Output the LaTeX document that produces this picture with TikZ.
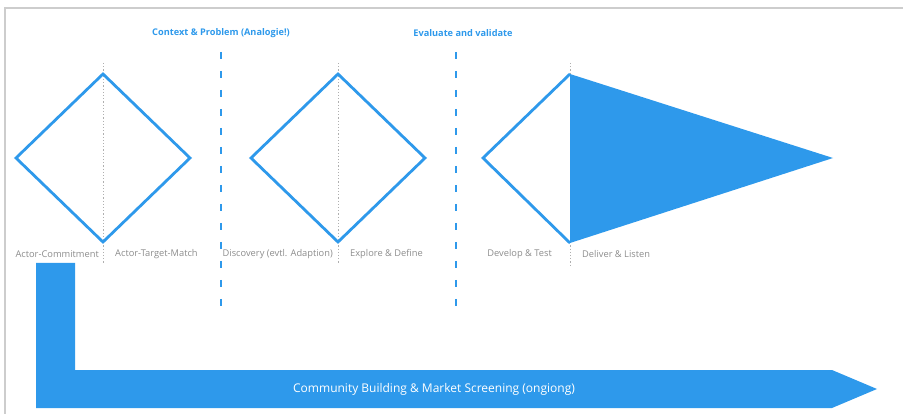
\documentclass[tikz,border=0pt]{standalone}
\usepackage{fontspec}
\setmainfont{Open Sans}
\definecolor{dtblue}{RGB}{46,153,235}
\definecolor{framegray}{RGB}{205,205,205}
\definecolor{labelgray}{RGB}{140,140,140}
\begin{document}
\begin{tikzpicture}[x=1pt,y=-1pt,
  outline/.style={draw=dtblue,line width=2.8pt,line join=miter},
  axisline/.style={draw=labelgray!70,line width=0.8pt,dash pattern=on 1.2pt off 2pt},
  phasesep/.style={draw=dtblue,line width=2.6pt,dash pattern=on 7pt off 12pt},
  phasetitle/.style={text=dtblue,font=\fontsize{9.2}{11}\selectfont\bfseries,inner sep=0pt},
  steplabel/.style={text=labelgray,font=\fontsize{9.3}{11}\selectfont,inner sep=0pt},
  bandtext/.style={text=white,font=\fontsize{12}{14}\selectfont,inner sep=0pt}]
\useasboundingbox (0,0) rectangle (903,414);
% frame
\draw[framegray,line width=1.5pt] (5,414) -- (5,8) -- (903,8);

% phase titles and separators
\node[phasetitle] (t1) at (221,33) {Context \& Problem (Analogie!)};
\node[phasetitle] (t2) at (463,33) {Evaluate and validate};
\coordinate (s1a) at (221,47); \coordinate (s1b) at (221,309);
\coordinate (s2a) at (456,47); \coordinate (s2b) at (456,309);
\draw[phasesep,dash phase=-5pt] (s1a) -- (s1b);
\draw[phasesep,dash phase=-5pt] (s2a) -- (s2b);

% centre axes
\coordinate (a1t) at (103,63); \coordinate (a1b) at (103,264);
\coordinate (a2t) at (338,63); \coordinate (a2b) at (338,264);
\coordinate (a3t) at (570,63); \coordinate (a3b) at (570,266);
\draw[axisline] (a1t) -- (a1b);
\draw[axisline] (a2t) -- (a2b);
\draw[axisline] (a3t) -- (a3b);

% diamond 1
\draw[outline] (103,74) -- (190,158) -- (103,242) -- (16,158) -- cycle;
% diamond 2
\draw[outline] (338,74) -- (425,158) -- (338,242) -- (251,158) -- cycle;
% delivery wedge
\fill[dtblue] (570,74) -- (833,158) -- (570,243) -- cycle;
\draw[outline] (570,74) -- (483,158) -- (570,243);

% step labels
\node[steplabel,anchor=east] (l1) at (99,254) {Actor-Commitment};
\node[steplabel,anchor=west] (l2) at (115,254) {Actor-Target-Match};
\node[steplabel,anchor=east] (l3) at (333,254) {Discovery (evtl. Adaption)};
\node[steplabel,anchor=west] (l4) at (350,254) {Explore \& Define};
\node[steplabel,anchor=east] (l5) at (552,254) {Develop \& Test};
\node[steplabel,anchor=west] (l6) at (582,254) {Deliver \& Listen};

% ongoing band
\fill[dtblue] (36,263) -- (75,263) -- (75,370) -- (832,370) -- (877,389)
  -- (832,408) -- (36,408) -- cycle;
\node[bandtext] (band) at (434,389) {Community Building \& Market Screening (ongiong)};
\end{tikzpicture}
\end{document}
